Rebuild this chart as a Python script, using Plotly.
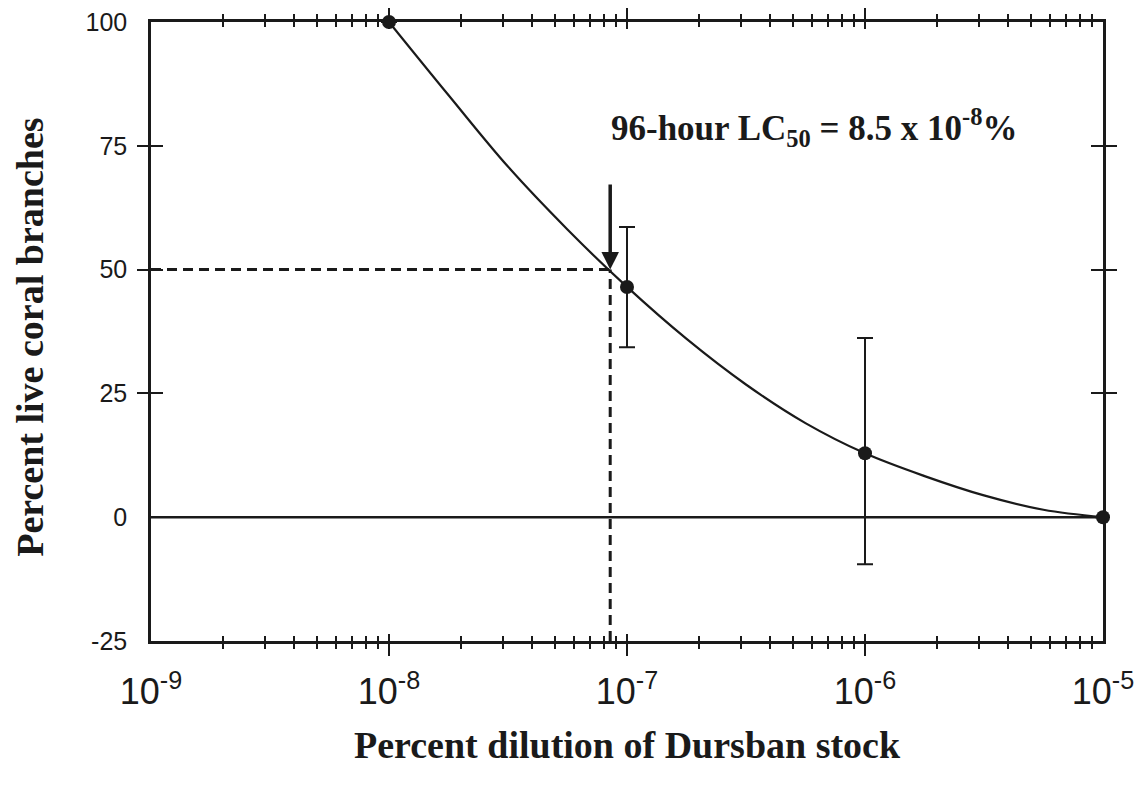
import math
import plotly.graph_objects as go

# ---- data ----
dilution = [1e-8, 1e-7, 1e-6, 1e-5]
pct_live = [100, 46.5, 12.9, 0]
err_plus = [None, 12.1, 23.3, None]
err_minus = [None, 12.2, 22.4, None]

# fitted curve at quarter-decade steps
curve_x = [1e-8, 1.78e-8, 3.16e-8, 5.62e-8, 1e-7, 1.78e-7, 3.16e-7, 5.62e-7,
           1e-6, 1.78e-6, 3.16e-6, 5.62e-6, 1e-5]
curve_y = [100, 85.2, 70.8, 58.1, 46.5, 36.0, 26.8, 19.0,
           12.9, 8.3, 4.4, 1.5, 0]

LC50 = 8.5e-8
LC50_LEVEL = 50
ARROW_TOP = 67.5

x_major = [1e-9, 1e-8, 1e-7, 1e-6, 1e-5]
x_major_text = ["10<sup>-9</sup>", "10<sup>-8</sup>", "10<sup>-7</sup>",
                "10<sup>-6</sup>", "10<sup>-5</sup>"]
x_inner_major = [1e-8, 1e-7, 1e-6]
x_minor = [m * d for d in [1e-9, 1e-8, 1e-7, 1e-6] for m in range(2, 10)]
y_ticks = [-25, 0, 25, 50, 75, 100]
y_ticktext = ["-25", "0", "25", "50", "75", "100"]
y_inner_ticks = [25, 50, 75]
X_RANGE = [-9, -5]
Y_RANGE = [-25, 100]

INK = "#1a1a1a"
SERIF = "Liberation Serif"
SANS = "Liberation Sans"

fig = go.Figure()

# dashed guide lines to LC50
dash_style = dict(color=INK, width=3, dash="10px,6px")
fig.add_trace(go.Scatter(x=[10 ** X_RANGE[0], LC50], y=[LC50_LEVEL, LC50_LEVEL],
                         mode="lines", line=dash_style, showlegend=False, hoverinfo="skip"))
fig.add_trace(go.Scatter(x=[LC50, LC50], y=[Y_RANGE[0], LC50_LEVEL],
                         mode="lines", line=dash_style, showlegend=False, hoverinfo="skip"))

# fitted curve
fig.add_trace(go.Scatter(x=curve_x, y=curve_y, mode="lines",
                         line=dict(color=INK, width=2.2, shape="spline", smoothing=1.0),
                         showlegend=False, hoverinfo="skip"))

# data points with error bars
fig.add_trace(go.Scatter(x=dilution, y=pct_live, mode="markers",
                         marker=dict(color=INK, size=14),
                         error_y=dict(type="data", array=err_plus, arrayminus=err_minus,
                                      symmetric=False, color=INK, thickness=2, width=8),
                         cliponaxis=False, showlegend=False))

# dummy traces for overlay axes
fig.add_trace(go.Scatter(x=[None], y=[None], xaxis="x2", yaxis="y2", showlegend=False))
fig.add_trace(go.Scatter(x=[None], y=[None], xaxis="x3", yaxis="y3", showlegend=False))

# zero line
fig.add_hline(y=0, line=dict(color=INK, width=2.5))

base = dict(showline=True, linecolor=INK, linewidth=2.5, mirror="ticks",
            showgrid=False, zeroline=False, tickcolor=INK, tickwidth=2,
            automargin=False)

def x_overlay(side_ticks, major_len, minor_len):
    return dict(type="log", range=X_RANGE, overlaying="x", tickvals=x_inner_major,
                showticklabels=False, ticks=side_ticks, ticklen=major_len,
                minor=dict(tickvals=x_minor, ticks=side_ticks, ticklen=minor_len,
                           tickcolor=INK, tickwidth=1.5, showgrid=False),
                **base)

def y_overlay(side_ticks, length):
    return dict(range=Y_RANGE, overlaying="y", tickvals=y_inner_ticks,
                showticklabels=False, ticks=side_ticks, ticklen=length, **base)

fig.update_layout(
    width=1146, height=789,
    margin=dict(l=143, r=51, t=14, b=156),
    plot_bgcolor="white", paper_bgcolor="white",
    xaxis=dict(type="log", range=X_RANGE, tickvals=x_major, ticktext=x_major_text,
               ticks="", tickfont=dict(family=SANS, size=36, color=INK),
               ticklabelstandoff=17, ticklabeloverflow="allow", **base),
    yaxis=dict(range=Y_RANGE, tickvals=y_ticks, ticktext=y_ticktext, ticks="",
               tickfont=dict(family=SANS, size=25, color=INK), ticklabelstandoff=16,
               ticklabeloverflow="allow", **base),
    xaxis2=dict(anchor="y2", **x_overlay("inside", 7, 5)),
    xaxis3=dict(anchor="y3", **x_overlay("outside", 12, 5)),
    yaxis2=dict(anchor="x2", **y_overlay("inside", 12)),
    yaxis3=dict(anchor="x3", **y_overlay("outside", 11)),
    showlegend=False,
)

# arrow pointing to LC50
fig.add_annotation(x=math.log10(LC50), y=LC50_LEVEL, xref="x", yref="y",
                   ax=math.log10(LC50), ay=ARROW_TOP, axref="x", ayref="y",
                   showarrow=True, arrowhead=2, arrowsize=1, arrowwidth=3.5,
                   arrowcolor=INK, text="")

# LC50 label
fig.add_annotation(x=0.696, y=0.829, xref="paper", yref="paper",
                   text="<b>96-hour LC<sub>50</sub> = 8.5 x 10<sup>-8</sup>%</b>",
                   showarrow=False, font=dict(family=SERIF, size=35, color=INK),
                   xanchor="center", yanchor="middle")

# axis titles
fig.add_annotation(x=0.501, y=-0.168, xref="paper", yref="paper",
                   text="<b>Percent dilution of Dursban stock</b>", showarrow=False,
                   font=dict(family=SERIF, size=38, color=INK),
                   xanchor="center", yanchor="middle")
fig.add_annotation(x=-0.127, y=0.490, xref="paper", yref="paper",
                   text="<b>Percent live coral branches</b>", showarrow=False,
                   textangle=-90, font=dict(family=SERIF, size=38, color=INK),
                   xanchor="center", yanchor="middle")

fig.write_html("out.html")
